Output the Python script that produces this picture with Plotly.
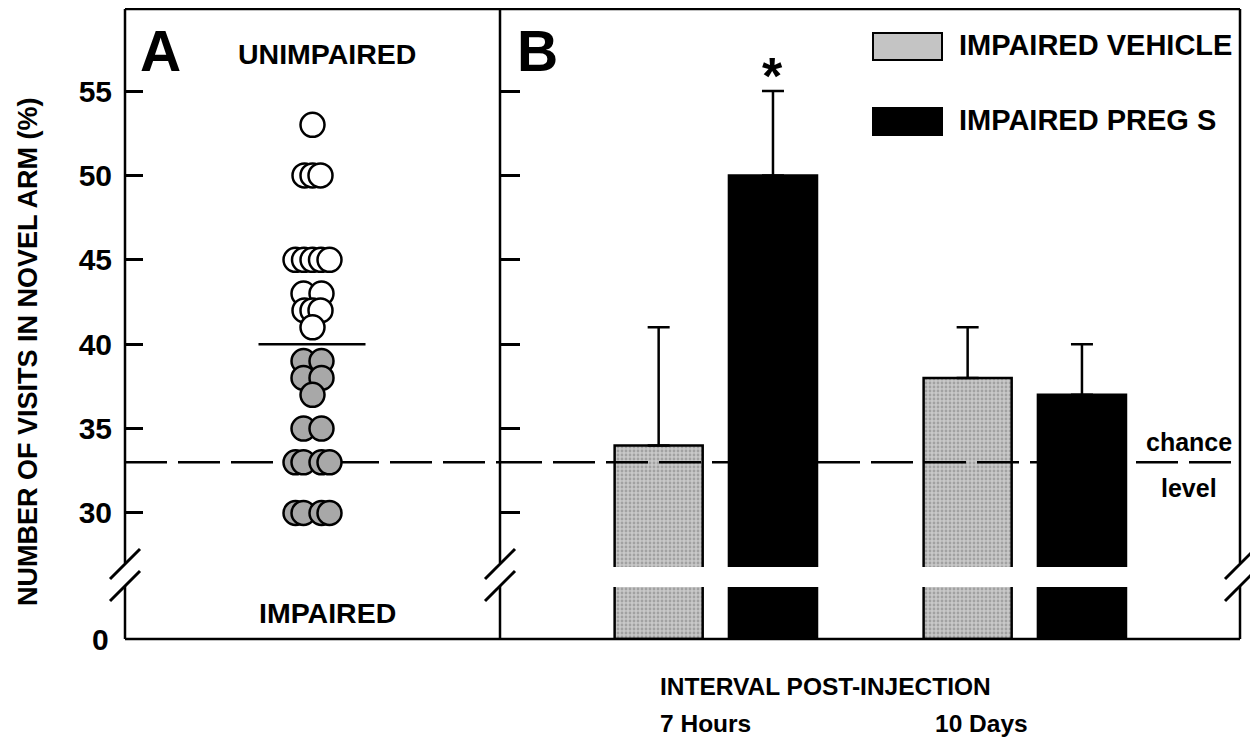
import numpy as np
import plotly.graph_objects as go

# ---------------- data ----------------
unimpaired_values = [53, 50, 50, 50, 45, 45, 45, 45, 45, 43, 43, 42, 42, 42, 41]
impaired_values = [39, 39, 38, 38, 37, 35, 35, 33, 33, 33, 33, 30, 30, 30, 30]
intervals = ["7 Hours", "10 Days"]
vehicle_mean = [34, 38]
vehicle_sem = [7, 3]
pregs_mean = [50, 37]
pregs_sem = [5, 3]
series_names = ["IMPAIRED VEHICLE", "IMPAIRED PREG S"]
chance_level = 33
y_ticks = [30, 35, 40, 45, 50, 55]
low_ticks = [0]

# ---------------- layout helpers ----------------
PAGE_OFF = 8          # default body margin of the html page
W, H = 1258 - PAGE_OFF, 744 - PAGE_OFF
FONT = "Liberation Sans, Arial, sans-serif"


def px(x):
    return (x - PAGE_OFF) / W


def py(y):
    return 1 - (y - PAGE_OFF) / H


# horizontal spread templates for the dot plot (pixel offsets)
JITTER = {1: [0], 2: [-9, 9], 3: [-8, 0, 8], 4: [-17, -9, 9, 17],
          5: [-17, -8.5, 0, 8.5, 17]}


def swarm(values):
    xs, ys = [], []
    for v in sorted(set(values), reverse=True):
        n = values.count(v)
        for off in JITTER[n]:
            xs.append(off)
            ys.append(v)
    return xs, ys


fig = go.Figure()

# ---- Panel A: dot plot ----
xu, yu = swarm(unimpaired_values)
xi, yi = swarm(impaired_values)
fig.add_trace(go.Scatter(x=xu, y=yu, mode="markers", xaxis="x", yaxis="y",
                         marker=dict(size=24, color="white",
                                     line=dict(color="black", width=2.5)),
                         showlegend=False, cliponaxis=False))
fig.add_trace(go.Scatter(x=xi, y=yi, mode="markers", xaxis="x", yaxis="y",
                         marker=dict(size=24, color="#a8a8a8",
                                     line=dict(color="black", width=2.5)),
                         showlegend=False, cliponaxis=False))

# ---- Panel B: bars (upper and lower segments of broken axis) ----
BAR_W = 0.285
veh_marker = dict(color="#c4c4c4", line=dict(color="black", width=2.5),
                  pattern=dict(shape=".", fgcolor="#7a7a7a", bgcolor="#c8c8c8",
                               size=4, solidity=0.4))
preg_marker = dict(color="black", line=dict(color="black", width=2.5))
err_style = dict(color="black", thickness=2.5, width=11)

for vals, errs, name, mk, off in [
        (vehicle_mean, vehicle_sem, series_names[0], veh_marker, -0.325),
        (pregs_mean, pregs_sem, series_names[1], preg_marker, 0.045)]:
    fig.add_trace(go.Bar(x=intervals, y=vals, name=name, xaxis="x2", yaxis="y2",
                         width=BAR_W, offset=off, marker=mk, showlegend=False,
                         error_y=dict(type="data", array=errs,
                                      arrayminus=[0] * len(errs),
                                      symmetric=False, **err_style)))
    fig.add_trace(go.Bar(x=intervals, y=vals, name=name, xaxis="x2", yaxis="y4",
                         width=BAR_W, offset=off, marker=mk, showlegend=False))

# ---------------- axes ----------------
tickfont = dict(family=FONT, size=30, color="black", weight="bold")
yU = [py(567), py(9)]
yL = [py(639), py(587)]
fig.update_layout(
    width=W, height=H, margin=dict(l=0, r=0, t=0, b=0),
    paper_bgcolor="white", plot_bgcolor="white", barmode="overlay",
    xaxis=dict(domain=[px(125), px(500)], range=[-187.5, 187.5], visible=False),
    xaxis2=dict(domain=[px(500), px(1240)], range=[-0.696, 1.699],
                type="category", visible=False),
    yaxis=dict(anchor="x", domain=yU, range=[26.8, 59.86], tickvals=y_ticks,
               ticks="inside", ticklen=18, tickwidth=2.5, tickcolor="black",
               showline=False, showgrid=False, zeroline=False,
               tickfont=tickfont, ticklabelstandoff=12),
    yaxis2=dict(anchor="x2", domain=yU, matches="y", tickvals=y_ticks,
                ticks="inside", ticklen=20, tickwidth=2.5, tickcolor="black",
                showticklabels=False, showline=False, showgrid=False,
                zeroline=False),
    yaxis3=dict(anchor="x", domain=yL, range=[0, 3], ticks="",
                showticklabels=False, showline=False, showgrid=False,
                zeroline=False),
    yaxis4=dict(anchor="x2", domain=yL, range=[0, 3], ticks="",
                showticklabels=False, showline=False, showgrid=False,
                zeroline=False),
)

# ---------------- shapes ----------------
shapes = []
LW = 2.5


def seg(x0, y0, x1, y1, w=LW):
    shapes.append(dict(type="line", xref="paper", yref="paper",
                       x0=px(x0), y0=py(y0), x1=px(x1), y1=py(y1),
                       line=dict(color="black", width=w), layer="above"))


# frame
seg(125, 9, 1240, 9)
seg(125, 639, 1240, 639)
for xv in (125, 500, 1240):
    seg(xv, 9, xv, 563)
    seg(xv, 586, xv, 639)
    seg(xv - 15, 579, xv + 15, 549, 3)
    seg(xv - 15, 601, xv + 15, 571, 3)

# chance level
dash = "42px,11px"
shapes.append(dict(type="line", xref="paper", yref="y", x0=px(125), x1=px(500),
                   y0=chance_level, y1=chance_level, layer="below",
                   line=dict(color="black", width=2.5, dash=dash)))
shapes.append(dict(type="line", xref="paper", yref="y2", x0=px(500), x1=px(1240),
                   y0=chance_level, y1=chance_level, layer="above",
                   line=dict(color="black", width=2.5, dash=dash)))

# median split line
median_val = float(np.median(unimpaired_values + impaired_values))
shapes.append(dict(type="line", xref="x", yref="y", x0=-54, x1=53,
                   y0=median_val, y1=median_val, layer="above",
                   line=dict(color="black", width=2.5)))

# legend swatches
shapes.append(dict(type="rect", xref="paper", yref="paper",
                   x0=px(873), x1=px(942), y0=py(60), y1=py(33),
                   fillcolor="#c4c4c4", line=dict(color="black", width=2)))
shapes.append(dict(type="rect", xref="paper", yref="paper",
                   x0=px(873), x1=px(942), y0=py(135), y1=py(108),
                   fillcolor="black", line=dict(color="black", width=2)))
fig.update_layout(shapes=shapes)

# ---------------- annotations ----------------
ann = []


def txt(text, x, y, size, xanchor="center", yanchor="middle", angle=0):
    ann.append(dict(text=text, xref="paper", yref="paper", x=px(x), y=py(y),
                    xanchor=xanchor, yanchor=yanchor, showarrow=False,
                    textangle=angle,
                    font=dict(family=FONT, size=size, color="black", weight="bold")))


txt("A", 160, 51, 57)
txt("B", 537, 51, 57)
txt("UNIMPAIRED", 327, 54, 28.5)
txt("IMPAIRED", 327, 613, 28.5)
txt(series_names[0], 957, 45, 29, xanchor="left")
txt(series_names[1], 957, 120, 29, xanchor="left")
txt("chance", 1189, 442, 25)
txt("level", 1189, 488, 25)
txt("INTERVAL POST-INJECTION", 658, 686, 24.5, xanchor="left")
txt(intervals[0], 658, 723, 24.5, xanchor="left")
txt(intervals[1], 933, 723, 24.5, xanchor="left")
txt("NUMBER OF VISITS IN NOVEL ARM (%)", 28, 352, 27, angle=-90)

# "0" label of the lower (broken) axis segment
for t in low_ticks:
    ann.append(dict(text=str(t), xref="paper", yref="y3", x=px(111), y=t,
                    xanchor="right", yanchor="middle", showarrow=False,
                    font=dict(family=FONT, size=30, color="black", weight="bold")))

# significance marker
ann.append(dict(text="*", xref="x2", yref="y2", x=0 + 0.045 + BAR_W / 2,
                y=pregs_mean[0] + pregs_sem[0], yanchor="middle", yshift=15,
                showarrow=False,
                font=dict(family=FONT, size=52, color="black", weight="bold")))
fig.update_layout(annotations=ann)

fig.write_html("out.html")
